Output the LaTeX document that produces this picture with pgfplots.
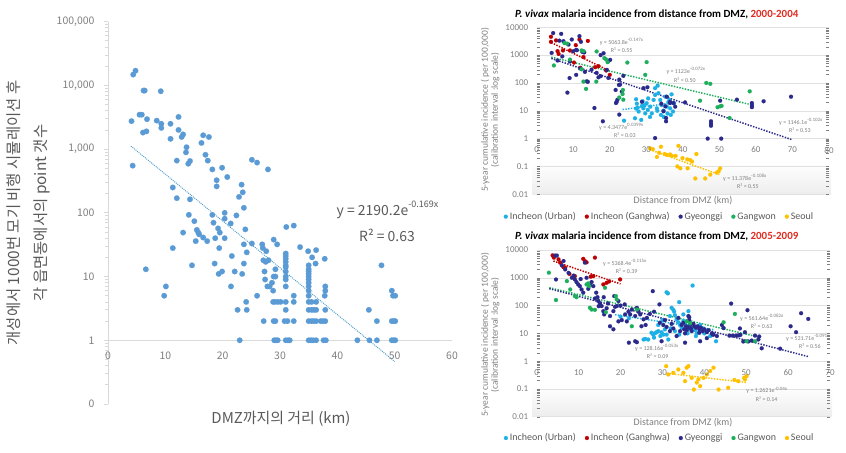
\documentclass[border=0pt]{standalone}
\usepackage{pgfplots}
\pgfplotsset{compat=1.18}
\usepackage{fontspec}
\setmainfont{Carlito}
\newfontfamily\kr{Noto Sans CJK KR}
\definecolor{ptblue}{HTML}{5B9BD5}
\definecolor{trendblue}{HTML}{4A9BC8}
\definecolor{txtgray}{HTML}{595959}
\definecolor{tickgray}{HTML}{7F7F7F}
\definecolor{gridgray}{HTML}{D9D9D9}
\definecolor{cUrban}{HTML}{1CB0E6}
\definecolor{cGang}{HTML}{C00000}
\definecolor{cGyeong}{HTML}{2B2A8C}
\definecolor{cGangwon}{HTML}{1DAF5B}
\definecolor{cSeoul}{HTML}{FFC000}
\definecolor{titlered}{HTML}{E02B20}
\tikzset{
  mytrend/.style={draw=#1, line width=1.5bp, dash pattern=on 1.4bp off 1.4bp},
}
\begin{document}
\begin{tikzpicture}[x=1bp,y=1bp]
\useasboundingbox (0,0) rectangle (846,453);

% ---------------- LEFT CHART ----------------
\begin{axis}[
  at={(108bp,49bp)}, anchor=south west, scale only axis, width=344bp, height=382.3bp,
  xmin=0, xmax=60, ymode=log, ymin=0.1, ymax=100000,
  axis x line=none, axis y line=left, axis line style={-, draw=gridgray, line width=0.8bp},
  ytick={0.1,1,10,100,1000,10000,100000},
  yticklabels={0,1,10,100,{1,000},{10,000},{100,000}},
  tick align=outside, major tick length=4bp, ytick style={draw=gridgray, line width=0.8bp},
  extra y ticks={1}, extra y tick labels={}, extra y tick style={grid=major},
  major grid style={draw=gridgray, line width=0.8bp},
  yticklabel style={font=\kr\fontsize{10.5}{12}\selectfont, text=tickgray, xshift=-6bp},
  /pgf/number format/assume math mode=true,
]
\addplot[only marks, mark=*, mark size=2.8bp, color=ptblue, mark options={line width=0.1bp}] coordinates {
(4.4,14800)(4.8,17000)(4.1,2750)(4.3,550)(5.5,3470)(5.9,3470)(6.2,8300)(6.4,8300)(6.1,1820)(6.7,1900)(6.8,2950)(6.6,13)(8.5,2800)(9.2,8100)(9.3,2500)(9.3,2150)(9.8,5)(10.1,7)(10.9,2500)(10.9,1450)(11.3,250)(11.3,28)(12.0,660)(12.0,170)(12.3,3200)(12.3,2000)(12.85,1550)(13.1,1700)(13.1,49)(13.7,1070)(13.6,890)(14.0,590)(14.3,650)(14.3,163)(14.1,93)(14.65,15)(15.06,74)(15.3,36)(15.5,54)(15.75,49)(15.9,46)(16.3,1250)(16.6,1650)(16.6,41)(17.0,815)(17.3,36)(17.4,660)(17.6,1550)(18.2,480)(18.2,93)(18.4,70)(18.6,16)(18.7,40)(18.95,325)(18.95,260)(19.2,57)(19.4,28)(19.3,11)(19.5,49)(19.9,510)(19.9,12)(20.35,100)(20.35,81)(20.35,40)(20.8,365)(21.4,68)(21.6,21)(21.45,7)(22.1,12)(22.4,91)(22.6,3)(22.85,178)(22.97,1)(23.3,277)(23.5,210)(23.4,11)(23.7,120)(23.7,32)(23.7,16)(23.95,55)(24.1,4)(24.2,3)(24.2,24)(25.1,680)(25.1,33)(26.0,615)(26.0,5)(26.9,32)(27.0,28)(27.15,2)(27.1,18)(27.3,12)(27.4,9)(27.6,25)(27.5,17)(27.9,480)(28.0,18)(27.8,7)(28.2,7)(28.6,8)(28.8,6)(28.8,4)(29.1,4)(29.6,4)(30.1,4)(28.9,38)(28.9,10)(29.2,10)(29.2,13)(28.9,2)(29.2,2)(29.0,1)(29.3,1)(29.6,1)(29.5,32)
(31.1,60)(31.0,23)(31.0,21)(31.0,19)(31.0,17)(31.0,15)(31.0,14)(31.0,12)(31.0,10)(31.0,9)(31.0,7)(31.0,4)(31.0,3)(30.8,2)(31.3,2)(31.0,1)(31.4,1)(31.7,1)
(32.4,63)(32.4,5)(32.4,4)(32.4,2)(33.5,29)(34.9,25)
(35,15)(35,13)(35,12)(35,11)(35,10)(35,9)(35,8)(35,7)(35,6)(35,5)(35,4)(35,3)(35,2)(35,1)(35.4,1)(35.8,1)(36.3,1)(35.5,4)(35.5,3)(35.9,3)(35.5,2)(35.9,2)(36.3,2)
(35.6,20)(36.2,16)(36.3,26)(36.3,4)(36.3,3)
(37.8,19)(37.9,7)(37.9,6)(37.8,5)(37.9,3)(37.1,2)(37.5,2)(37.9,2)(37.6,1)(38.0,1)
(43.5,1)(45.5,3)(45.6,1)(46.9,2)(46.9,1)(47.7,15)(49.5,6)(49.7,5)(50.1,5)(49.5,2)(49.8,2)(50.1,2)(49.5,1)(49.8,1)(50.1,1)
};
\addplot[draw=trendblue, line width=0.9bp, dash pattern=on 1bp off 1bp] coordinates {(4,1114)(50,0.4658)};
\end{axis}
\foreach \v in {0,10,...,60} \node[font=\kr\fontsize{10.5}{12}\selectfont, text=tickgray] at ({108+\v/60*344},97) {\v};
\node[rotate=90, align=center, font=\kr\fontsize{15.5}{27}\selectfont, text=txtgray] at (28.5,240)
  {개성에서 1000번 모기 비행 시뮬레이션 후\\각 읍면동에서의 point 갯수};
\node[font=\kr\fontsize{15}{17}\selectfont, text=txtgray] at (281,34) {DMZ까지의 거리 (km)};
\node[font=\kr\fontsize{14}{16}\selectfont, text=txtgray] at (387.5,243) {y = 2190.2e\raisebox{0.55em}{\fontsize{9}{10}\selectfont -0.169x}};
\node[font=\kr\fontsize{14}{16}\selectfont, text=txtgray] at (387,218) {R² = 0.63};

% ---------------- TOP RIGHT ----------------
\shade[top color=white, bottom color=gray!14] (532,258.7) rectangle (831,290);
\begin{axis}[at={(536.7bp,258.7bp)}, anchor=south west, scale only axis, width=292.3bp, height=167bp,
  xmin=0, xmax=80, ymode=log, ymin=0.01, ymax=10000,
  axis line style={draw=none}, major tick length=0pt,
  xtick=\empty,
  ytick={0.01,0.1,1,10,100,1000,10000},
  yticklabels={0.01,0.1,1,10,100,1000,10000},
  ymajorgrids, major grid style={draw=gridgray!80, line width=0.5bp},
  yticklabel style={font=\fontsize{9}{10}\selectfont, text=tickgray, xshift=-5bp},
  /pgf/number format/assume math mode=true,
  legend columns=5, legend cell align=left,
  legend style={draw=none, fill=none, font=\fontsize{10}{11}\selectfont, text=txtgray,
      /tikz/every even column/.append style={column sep=7bp}, at={(0.42,-0.134)}, anchor=center}]
\addplot[only marks, mark=*, mark size=2bp, color=cUrban, mark options={line width=0.1bp}] coordinates {
(23.9,4.4)(26.9,5.4)(27.2,26)(27.4,18)(27.2,12)(27.9,9.4)(28.6,4.7)(28.8,15)(29.2,12.3)(29.7,8.1)(30.1,18.7)(30.4,10.7)(31.1,14.1)(31.5,8.1)(32.0,24.5)(32.4,37)(32.4,65)(32.9,12.3)(33.3,43)(33.8,24.5)(34.0,7.1)(34.2,16)(34.7,10.2)(35.2,32)(35.6,14)(36.3,24.5)(36.5,12.3)(36.9,39)(36.7,7.1)(37.3,9.4)(37.6,18.7)(30.5,28)(29.0,22)(33,10)(35.8,8)(36,20)(31,6)(27.6,13)(33.1,80)(29.5,16)(34.8,6)
};
\addplot[only marks, mark=*, mark size=2bp, color=cGang, mark options={line width=0.1bp}] coordinates {
(3.9,4560)(3.9,3000)(5.3,3380)(5.7,1390)(7.2,1470)(9.1,1470)(10.7,2280)(11.7,3640)(14.0,3240)(12.8,850)(11.9,350)(10.2,540)(16.0,370)(16.9,400)(19.0,280)(20,195)(6.0,1100)
};
\addplot[only marks, mark=*, mark size=2bp, color=cGyeong, mark options={line width=0.1bp}] coordinates {
(4.5,6200)(6.7,5800)(6.2,3300)(4.1,1200)(5.7,640)(7.3,3170)(8.7,2400)(9.6,3640)(11.7,4800)(12.1,3000)(10.0,1380)(11.0,1500)(12.5,1300)(9.0,150)(8.4,45)(10.8,195)(11.9,330)(13.2,250)(13.7,115)(14.0,110)(15.8,12.6)(16.4,230)(17.5,175)(16.9,160)(18.1,4.2)(18.3,1170)(19.6,152)(19.2,295)(20.1,675)(21.6,56)(21.9,21)(22.1,25)(22.5,85)(22.6,132)(22.8,87)(23.3,49)(22.6,7.3)(23.7,180)(21.7,19)(29.2,65)(30.3,70)(28.8,21)(32.4,1.05)(34.1,18)(34.7,9.6)(35.2,14.5)(35.4,5.5)(35.4,4.2)(35.6,32)(36.5,21)(36.5,19)(37.4,19)(37.9,14)(40.6,20)(47.7,4.2)(47.7,3.4)(47.7,2.9)(46.8,1.0)(50.5,1.0)(50.2,23)(54.8,25)(58.9,19)(58.9,16)(58.9,13.5)(62.1,22)(69.6,32)(9.1,590)(10.8,1550)(13,1250)(7.0,900)(15,300)(17.5,1000)(19.6,600)
};
\addplot[only marks, mark=*, mark size=2bp, color=cGangwon, mark options={line width=0.1bp}] coordinates {
(4.7,425)(7.6,2700)(8.3,2600)(9.1,690)(12.3,1470)(12.8,1400)(12.3,310)(12.8,112)(13.5,61)(16.4,1350)(16.3,112)(18.5,780)(19.0,700)(19.4,560)(24.8,540)(30.1,560)(29.7,195)(23.6,56)(23.5,40)(23.7,25)(22.6,30)(44.7,23)(46.4,100)(47.5,93)(49.5,13.4)(50.2,14.5)(50.6,15)(52.8,5.5)(58.3,50)
};
\addplot[only marks, mark=*, mark size=2bp, color=cSeoul, mark options={line width=0.1bp}] coordinates {
(31.0,0.45)(31.8,0.42)(34.0,0.51)(35.0,0.28)(35.6,0.26)(36.5,0.27)(37,0.24)(38,0.24)(38.8,0.55)(38.5,0.10)(39.3,0.086)(41.3,0.086)(42.0,0.17)(42.5,0.15)(41.2,0.18)(43.7,0.28)(43.4,0.037)(46.1,0.037)(47.5,0.051)(49.3,0.06)(49.8,0.067)(50.2,0.085)(32.9,0.22)(33.5,0.31)(39.9,0.2)
};
\addplot[mytrend=cGang, forget plot] coordinates {(4,2810)(20,267)};
\addplot[mytrend=cGangwon, forget plot] coordinates {(4,842)(58,17.3)};
\addplot[mytrend=cGyeong, forget plot] coordinates {(4,762)(70,0.906)};
\addplot[mytrend=cUrban, forget plot] coordinates {(23.5,11.1)(37,19.0)};
\addplot[mytrend=cSeoul, forget plot] coordinates {(31,0.40)(50,0.051)};
\legend{Incheon (Urban),Incheon (Ganghwa),Gyeonggi,Gangwon,Seoul}
\end{axis}
\foreach \v in {0,10,...,80} \node[font=\fontsize{9}{10}\selectfont, text=tickgray] at ({536.7+\v/80*292.3},303) {\v};
\node[font=\bfseries\fontsize{11}{12}\selectfont] at (656.7,439) {\textit{P. vivax} malaria incidence from distance from DMZ, \textcolor{titlered}{2000-2004}};
\node[rotate=90, align=center, font=\fontsize{9.5}{10}\selectfont, text=tickgray] at (490.3,343)
  {5-year cumulative incidence ( per 100,000)\\(calibration interval :log scale)};
\node[font=\fontsize{10}{11}\selectfont, text=tickgray] at (683,252) {Distance from DMZ (km)};
\begin{scope}[every node/.style={font=\fontsize{6}{7}\selectfont, text=tickgray}]
\node at (621.7,411.3) {y = 5063.8e\textsuperscript{-0.147x}};
\node at (621.7,403) {R² = 0.55};
\node at (686,382) {y = 1123e\textsuperscript{-0.072x}};
\node at (685,373) {R² = 0.50};
\node at (801,331) {y = 1146.1e\textsuperscript{-0.102x}};
\node at (800,322.3) {R² = 0.53};
\node at (621.5,326.3) {y = 4.3477e\textsuperscript{0.0399x}};
\node at (625,317.3) {R² = 0.03};
\node at (745,275.3) {y = 11.378e\textsuperscript{-0.108x}};
\node at (748,267) {R² = 0.55};
\end{scope}

% ---------------- BOTTOM RIGHT ----------------
\shade[top color=white, bottom color=gray!14] (532,36.3) rectangle (832,67.5);
\begin{axis}[at={(536.7bp,36.3bp)}, anchor=south west, scale only axis, width=293.3bp, height=166.7bp,
  xmin=0, xmax=70, ymode=log, ymin=0.01, ymax=10000,
  axis line style={draw=none}, major tick length=0pt,
  xtick=\empty,
  ytick={0.01,0.1,1,10,100,1000,10000},
  yticklabels={0.01,0.1,1,10,100,1000,10000},
  ymajorgrids, major grid style={draw=gridgray!80, line width=0.5bp},
  yticklabel style={font=\fontsize{9}{10}\selectfont, text=tickgray, xshift=-5bp},
  /pgf/number format/assume math mode=true,
  legend columns=5, legend cell align=left,
  legend style={draw=none, fill=none, font=\fontsize{10}{11}\selectfont, text=txtgray,
      /tikz/every even column/.append style={column sep=7bp}, at={(0.419,-0.128)}, anchor=center}]
\addplot[only marks, mark=*, mark size=2bp, color=cUrban, mark options={line width=0.1bp}] coordinates {
(37.2,525)(31.3,275)(34.0,133)(32.2,83)(32.6,70)(32.8,60)(31.8,42)(25.5,6)(26.6,6)(27.4,10.5)(27.8,9)(28.2,10)(28.6,11)(29.0,12)(29.5,8)(29.8,11)(30.2,9)(30.6,14)(31.0,9)(31.4,6)(33.4,32)(33.8,25)(34.2,20)(34.6,16)(35.0,28)(35.4,22)(35.8,18)(36.2,14)(36.6,20)(37.4,16)(37.8,13)(38.2,10)(39.0,20)(39.8,15)(40.6,12)(41.4,8)(42.8,5.2)(36.2,63)(35.0,48)(20,40)(22,35)(29,20)(30,30)(33,45)(36,10)(38,8)(40,10)(33,12)(34,9)(31,300)(25.9,6.3)(28,7)(32,15)
};
\addplot[only marks, mark=*, mark size=2bp, color=cGang, mark options={line width=0.1bp}] coordinates {
(3.8,6400)(4.1,5300)(4.0,6000)(5.2,4600)(5.6,3500)(6.8,2300)(6.4,2400)(11.1,4800)(11.5,4000)(11.9,3600)(13.9,5300)(13.5,1150)(12.9,1100)(15.9,575)(16.7,660)(17.3,740)(19.9,870)(9.1,1150)(7.8,1380)
};
\addplot[only marks, mark=*, mark size=2bp, color=cGyeong, mark options={line width=0.1bp}] coordinates {
(4.4,6300)(4.8,6300)(4.6,870)(6.4,4000)(6.8,2000)(7.6,1500)(8.4,1000)(9.1,870)(9.5,700)(9.9,575)(10.3,500)(10.7,380)(11.1,290)(11.5,3500)(12.3,400)(12.7,550)(13.1,700)(13.5,500)(14.2,290)(14.5,200)(14.7,145)(15.1,120)(15.5,96)(15.9,63)(16.1,48)(16.7,80)(17.5,42)(18.3,63)(18.7,90)(19.1,96)(18.5,219)(19.5,145)(17.5,18)(18.3,14)(19.5,27)(20.3,30)(21.1,48)(21.5,27)(21.9,60)(22.3,48)(22.7,72)(23.5,42)(23.9,83)(24.3,60)(24.7,48)(22.0,4.6)(23.5,5.2)(23.9,4.8)(25.5,32)(26.3,36)(27.7,330)(29.3,110)(29.4,24)(30.2,20)(30.6,30)(29.8,5.2)(31.0,17)(31.8,12)(32.2,22)(32.6,15)(33.4,8)(33.8,36)(34.2,12)(34.6,20)(35.0,24)(35.2,14)(35.4,10)(35.6,18)(35.8,13)(36.0,16)(36.2,42)(36.4,30)(36.6,20)(36.8,15)(37.0,12)(37.4,22)(37.6,18)(38.0,16)(38.4,18)(38.8,14)(39.2,16)(39.6,12)(40.0,14)(40.6,11)(41.0,13)(41.8,10)(42.2,9)(35.4,4.6)(39.0,5.2)(44.2,20)(44.6,15.5)(46.4,118)(50.3,68)(46.0,8.3)(46.8,8.3)(47.6,8.3)(48.2,8.5)(48.6,8.8)(49.7,11)(49.3,5.1)(50.5,5.1)(51.3,5.5)(52.1,8.3)(53.1,7.7)(52.9,6)(53.7,2.9)(60.6,18)(61.9,11)(63.1,53)(64.8,33)(58.1,2.8)(48.5,15)(27,50)(26,20)(25,18)(28,60)(20,100)(21,110)(17,120)(16,200)(13.9,180)(11.9,1000)(10.5,900)(8.8,1200)(14.8,95)(6.0,2800)(36.4,38)(38.8,10.5)(40.6,6.7)(42,9)(43,8)
};
\addplot[only marks, mark=*, mark size=2bp, color=cGangwon, mark options={line width=0.1bp}] coordinates {
(2.9,1520)(4.6,158)(7.2,760)(8.0,380)(9.1,220)(9.5,200)(11.9,575)(12.3,630)(12.7,83)(13.1,72)(13.9,70)(16.3,437)(16.5,58)(18.9,219)(19.1,166)(22.7,18)(23.9,72)(35.8,27)(36.6,23)(44.6,25)(47.3,50)(50.1,5.2)(52.1,5.2)(12.5,500)
};
\addplot[only marks, mark=*, mark size=2bp, color=cSeoul, mark options={line width=0.1bp}] coordinates {
(30.9,0.66)(31.4,0.33)(32.6,0.38)(33.8,0.50)(35.0,0.38)(35.8,0.58)(36.2,0.66)(35.4,0.19)(37.0,0.25)(37.5,0.095)(38.2,0.17)(38.6,0.22)(39.0,0.126)(39.8,0.25)(40.6,0.33)(41.4,0.44)(42.2,0.58)(43.4,0.095)(45.7,0.11)(47.2,0.21)(48.1,0.19)(49.7,0.22)(50.1,0.29)(49.5,0.25)
};
\addplot[mytrend=cGang, forget plot] coordinates {(4,4000)(20,600)};
\addplot[mytrend=cGangwon, forget plot] coordinates {(3,439)(53,7.3)};
\addplot[mytrend=cGyeong, forget plot] coordinates {(3,405)(65,1.43)};
\addplot[mytrend=cUrban, forget plot] coordinates {(18.7,47)(42.2,13.6)};
\addplot[mytrend=cSeoul, forget plot] coordinates {(31,0.365)(50,0.171)};
\legend{Incheon (Urban),Incheon (Ganghwa),Gyeonggi,Gangwon,Seoul}
\end{axis}
\foreach \v in {0,10,...,70} \node[font=\fontsize{9}{10}\selectfont, text=tickgray] at ({536.7+\v/70*293.3},80.3) {\v};
\node[font=\bfseries\fontsize{11}{12}\selectfont] at (656.7,217) {\textit{P. vivax} malaria incidence from distance from DMZ, \textcolor{titlered}{2005-2009}};
\node[rotate=90, align=center, font=\fontsize{9.5}{10}\selectfont, text=tickgray] at (490.3,118)
  {5-year cumulative incidence ( per 100,000)\\(calibration interval :log scale)};
\node[font=\fontsize{10}{11}\selectfont, text=tickgray] at (683,30) {Distance from DMZ (km)};
\begin{scope}[every node/.style={font=\fontsize{6}{7}\selectfont, text=tickgray}]
\node at (625,190.3) {y = 5368.4e\textsuperscript{-0.115x}};
\node at (626.7,182) {R² = 0.39};
\node at (762,135.3) {y = 561.64e\textsuperscript{-0.082x}};
\node at (761.7,126.3) {R² = 0.63};
\node at (808,115.3) {y = 531.71e\textsuperscript{-0.091x}};
\node at (810,106.3) {R² = 0.56};
\node at (657,105.3) {y = 128.16e\textsuperscript{-0.053x}};
\node at (657.7,96.3) {R² = 0.09};
\node at (767,62.7) {y = 1.2621e\textsuperscript{-0.04x}};
\node at (766.7,53.7) {R² = 0.14};
\end{scope}
\end{tikzpicture}
\end{document}
